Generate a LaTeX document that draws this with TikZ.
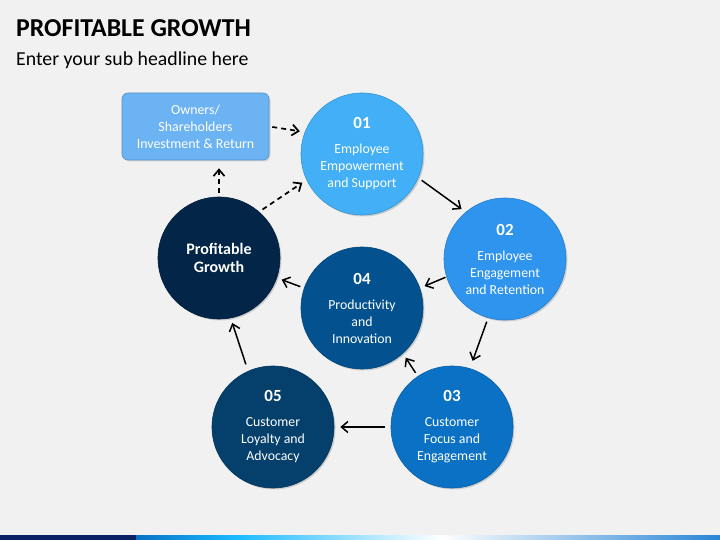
\documentclass[tikz,border=0pt]{standalone}
\usepackage{fontspec}
\setmainfont{Carlito}
\usetikzlibrary{arrows.meta,shadows}

\definecolor{bgcol}{HTML}{F1F1F1}
\definecolor{boxcol}{HTML}{6CB3F4}
\definecolor{c01}{HTML}{42AFF6}
\definecolor{c02}{HTML}{2E94EE}
\definecolor{c03}{HTML}{0A71C5}
\definecolor{c04}{HTML}{03528F}
\definecolor{c05}{HTML}{05406C}
\definecolor{cpg}{HTML}{022548}
\definecolor{navy}{HTML}{0B2161}

\begin{document}
\begin{tikzpicture}[x=1pt, y=-1pt, line join=round,
  stage/.style={circle, minimum size=122pt, inner sep=0pt, fill=#1, draw=#1!85!black, line width=0.6pt,
    text=white, align=center, font=\fontsize{13.8}{17}\selectfont,
    drop shadow={opacity=0.3, shadow xshift=1.5pt, shadow yshift=-1.5pt}},
  flow/.style={-{Straight Barb[length=6.5pt,width=11pt]}, line width=1.5pt, shorten <=4pt, shorten >=5pt},
  link/.style={flow, line width=1.7pt, dash pattern=on 5pt off 4pt}]

  % Background and bottom band
  \fill[bgcol] (0,0) rectangle (720,540);
  \useasboundingbox (0,0) rectangle (720,540);
  \fill[navy] (0,535) rectangle (136,540);
  \shade[left color=c03, right color=cyan!70!blue!90!white] (136,535) rectangle (236,540);
  \shade[left color=cyan!70!blue!90!white, right color=white] (235,535) rectangle (441,540);
  \shade[left color=white, right color=c02!90!black] (440,535) rectangle (720,540);

  % Title
  \node[anchor=base west, inner sep=0pt, font=\fontsize{25.8}{30}\selectfont\bfseries] (title) at (16,36.5) {PROFITABLE GROWTH};
  \node[anchor=base west, inner sep=0pt, font=\fontsize{19.8}{23}\selectfont] (sub) at (16,65.5) {Enter your sub headline here};

  % Owners box
  \node[draw=boxcol!80!black, fill=boxcol, line width=0.6pt, rounded corners=6pt, minimum width=147pt, minimum height=67pt,
    text=white, align=center, font=\fontsize{13.9}{17}\selectfont,
    drop shadow={opacity=0.25, shadow xshift=1.5pt, shadow yshift=-1.5pt}] (box) at (195.5,126.5)
    {Owners/\\Shareholders\\Investment \& Return};

  % Stages
  \node[stage=c01] (v1) at (362,154) {{\fontsize{17}{20}\selectfont\bfseries 01}\\[8pt]Employee\\Empowerment\\and Support};
  \node[stage=c02] (v2) at (505,259) {{\fontsize{17}{20}\selectfont\bfseries 02}\\[8pt]Employee\\Engagement\\and Retention};
  \node[stage=c03] (v3) at (452,427) {{\fontsize{17}{20}\selectfont\bfseries 03}\\[8pt]Customer\\Focus and\\Engagement};
  \node[stage=c04] (v4) at (362,308) {{\fontsize{17}{20}\selectfont\bfseries 04}\\[8pt]Productivity\\and\\Innovation};
  \node[stage=c05] (v5) at (273,427) {{\fontsize{17}{20}\selectfont\bfseries 05}\\[8pt]Customer\\Loyalty and\\Advocacy};
  \node[stage=cpg, font=\fontsize{16}{18.5}\selectfont\bfseries] (pg) at (219,258) {Profitable\\Growth};

  % Arrows
  \draw[link, shorten <=3pt] (box.east) -- (v1.159);
  \draw[link, shorten >=8pt] (pg.90) -- (pg.90 |- box.south);
  \draw[link] (pg.49) -- (v1.205);
  \draw[flow] (v1.-23) -- (v2.130);
  \draw[flow, shorten <=1pt] (v2.197) -- (v4.19);
  \draw[flow, shorten >=8pt] (v2.254) -- (v3.73);
  \draw[flow] (v3.124) -- (v4.-48);
  \draw[flow, shorten <=6pt, shorten >=6pt] (v3.180) -- (v5.0);
  \draw[flow, shorten <=7pt] (v5.114) -- (pg.-79);
  \draw[flow] (v4.161) -- (pg.-19);

\end{tikzpicture}
\end{document}
